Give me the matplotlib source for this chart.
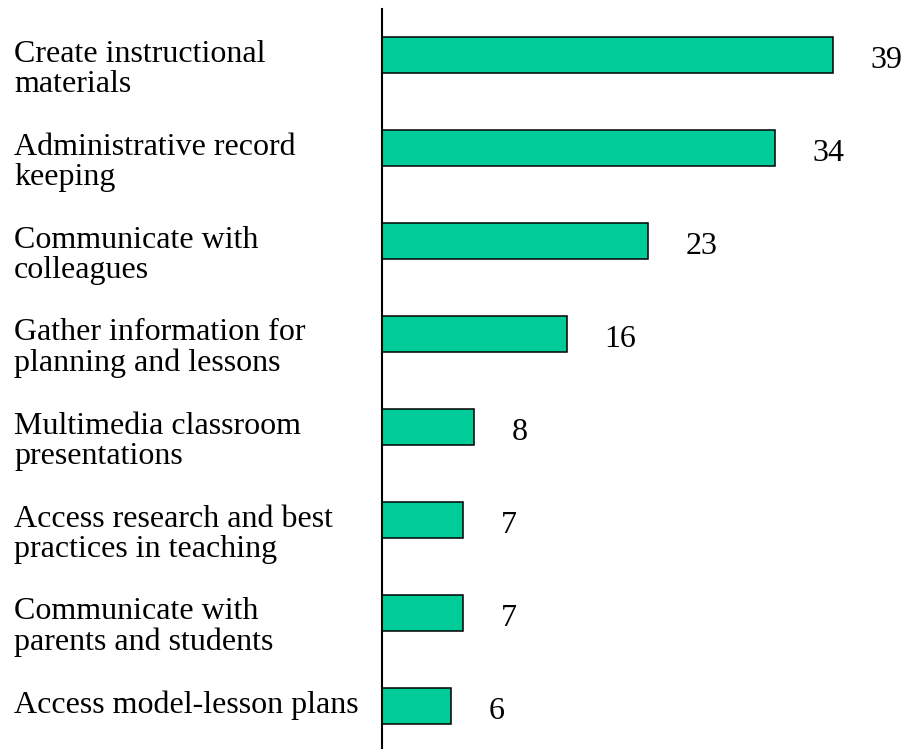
import matplotlib.pyplot as plt
from matplotlib.transforms import blended_transform_factory

# Chart data
labels = [
    "Create instructional\nmaterials",
    "Administrative record\nkeeping",
    "Communicate with\ncolleagues",
    "Gather information for\nplanning and lessons",
    "Multimedia classroom\npresentations",
    "Access research and best\npractices in teaching",
    "Communicate with\nparents and students",
    "Access model-lesson plans",
]
values = [39, 34, 23, 16, 8, 7, 7, 6]

plt.rcParams['font.family'] = ['Liberation Serif', 'DejaVu Serif']

fig = plt.figure(figsize=(9.02, 7.49), dpi=100)
ax = fig.add_axes([382 / 902, 0, 520 / 902, 1 - 9 / 749])

ypos = list(range(len(values)))
ax.barh(ypos, values, height=0.39, color='#00CC99', edgecolor='black', linewidth=1.1)

ax.set_xlim(0, 45.0)
ax.set_ylim(7.462, -0.495)

# Only the left axis line is visible
for side in ['top', 'right', 'bottom']:
    ax.spines[side].set_visible(False)
ax.spines['left'].set_linewidth(1.5)
ax.set_xticks([])
ax.set_yticks([])

# Category labels at the left edge of the figure
# (va='baseline' lines up the last line, so shift down by the extra lines)
trans = blended_transform_factory(fig.transFigure, ax.transData)
line_pt = 21.6
for y, lab in zip(ypos, labels):
    extra = lab.count('\n')
    ax.annotate(lab, xy=(14 / 902, y), xycoords=trans,
                xytext=(0, -5 - extra * line_pt), textcoords='offset points',
                ha='left', va='baseline', fontsize=23, linespacing=1.05,
                annotation_clip=False)

# Value labels to the right of each bar
for y, v in zip(ypos, values):
    ax.annotate(str(v), xy=(v, y), xytext=(27, -9.5), textcoords='offset points',
                ha='left', va='baseline', fontsize=23, annotation_clip=False)

fig.savefig('out.png', dpi=100)
